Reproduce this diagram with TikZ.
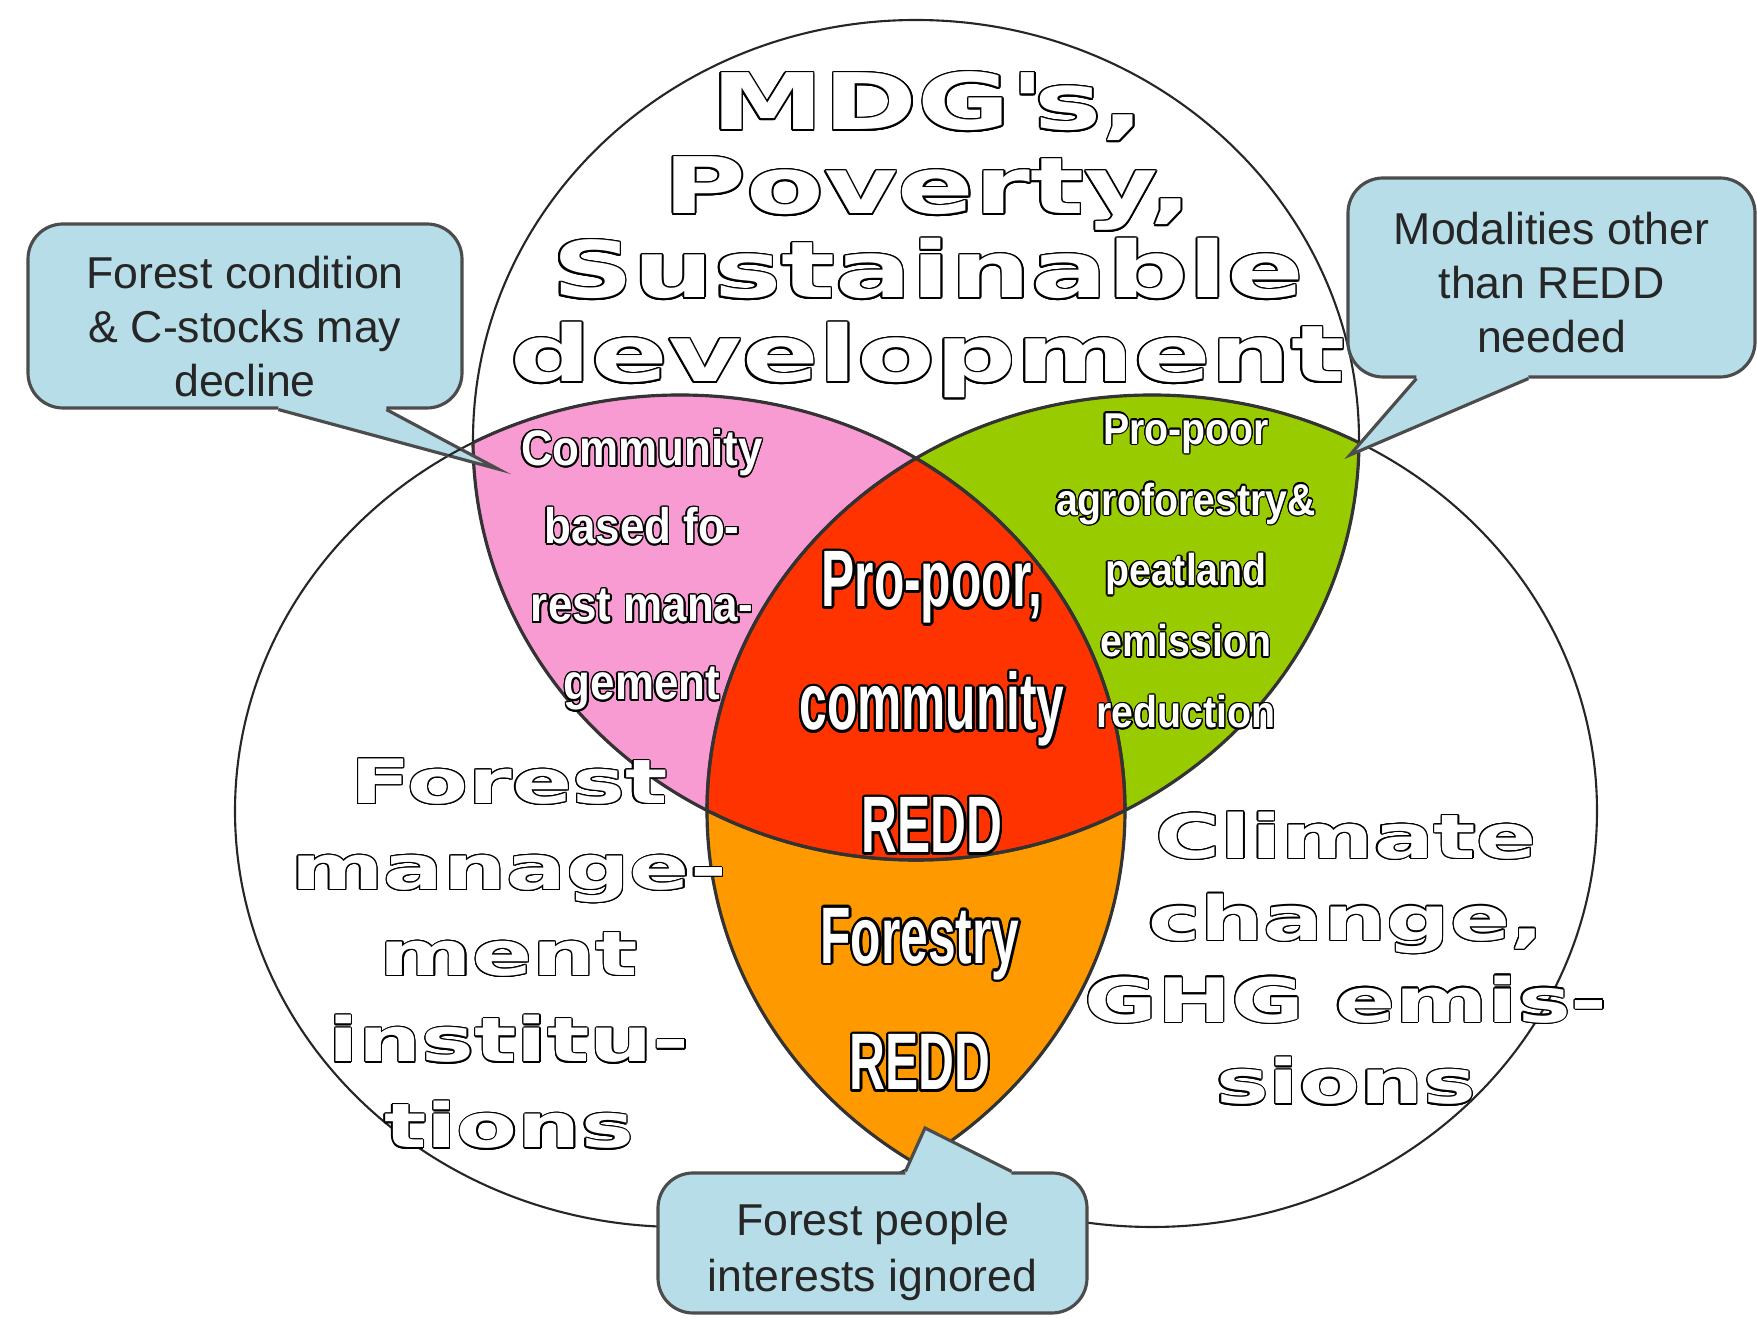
\documentclass[tikz,border=0pt]{standalone}
\usepackage{fontspec}
\usepackage{contour}
\setmainfont{Liberation Sans}
\newfontfamily\notefont{Liberation Sans}
\newfontfamily\widefont[FakeStretch=1.45]{DejaVu Sans}
\newfontfamily\narrowfont[FakeStretch=0.62]{Liberation Sans}
\newfontfamily\semifont[FakeStretch=0.88]{Liberation Sans}
\contourlength{0.03em}
\newcommand{\hollow}[1]{\contour{black}{#1}}
\newcommand{\thinhollow}[1]{{\contourlength{0.02em}\contour{black}{#1}}}

\definecolor{noteblue}{RGB}{183,222,232}
\definecolor{pinkzone}{RGB}{247,155,210}
\definecolor{greenzone}{RGB}{153,204,0}
\definecolor{redzone}{RGB}{255,51,0}
\definecolor{orangezone}{RGB}{255,153,0}

\begin{document}
\begin{tikzpicture}[
    orbtop/.style={x radius=4.43, y radius=4.20},
    orbside/.style={x radius=4.45, y radius=4.16},
    ring/.style={draw=black!85, line width=0.6pt},
    zoneedge/.style={draw=black!80, line width=0.9pt},
    note/.style={draw=black!70, fill=noteblue, rounded corners=0.35cm, line width=0.9pt,
        align=center, inner sep=0pt, text=black!85, text depth=0cm,
        font=\notefont\fontsize{12.7pt}{15.4pt}\selectfont},
    notetip/.style={draw=black!70, line width=0.9pt},
    wideword/.style={align=center, anchor=base, text=white, inner sep=0pt},
    narrowword/.style={align=center, anchor=base, text=white, inner sep=0pt},
]
    \useasboundingbox (0,0) rectangle (17.57,13.19);

    % centres of the three sets
    \coordinate (goal) at (9.16,8.79);
    \coordinate (forest) at (6.80,5.08);
    \coordinate (climate) at (11.52,5.08);

    % overlaps
    \begin{scope}
        \clip (goal) ellipse [orbtop];
        \fill[pinkzone] (forest) ellipse [orbside];
        \fill[greenzone] (climate) ellipse [orbside];
    \end{scope}
    \begin{scope}
        \clip (forest) ellipse [orbside];
        \fill[orangezone] (climate) ellipse [orbside];
        \clip (goal) ellipse [orbtop];
        \fill[redzone] (climate) ellipse [orbside];
    \end{scope}

    % outlines
    \draw[ring] (goal) ellipse [orbtop];
    \draw[ring] (forest) ellipse [orbside];
    \draw[ring] (climate) ellipse [orbside];
    \begin{scope}
        \clip (goal) ellipse [orbtop];
        \draw[zoneedge] (forest) ellipse [orbside];
        \draw[zoneedge] (climate) ellipse [orbside];
    \end{scope}
    \begin{scope}
        \clip (forest) ellipse [orbside];
        \draw[zoneedge] (goal) ellipse [orbtop];
        \draw[zoneedge] (climate) ellipse [orbside];
    \end{scope}
    \begin{scope}
        \clip (climate) ellipse [orbside];
        \draw[zoneedge] (goal) ellipse [orbtop];
        \draw[zoneedge] (forest) ellipse [orbside];
    \end{scope}

    % set titles (placed at the baseline of their last line)
    \node[wideword, font=\widefont\bfseries\fontsize{22.2pt}{23.9pt}\selectfont] (goals) at (9.28,9.37)
        {\thinhollow{MDG\textquotesingle s,}\\\thinhollow{Poverty,}\\\thinhollow{Sustainable}\\\thinhollow{development}};
    \node[wideword, font=\widefont\bfseries\fontsize{17.4pt}{24.5pt}\selectfont] (institutions) at (5.09,1.71)
        {\thinhollow{Forest}\\\thinhollow{manage-}\\\thinhollow{ment}\\\thinhollow{institu-}\\\thinhollow{tions}};
    \node[wideword, font=\widefont\bfseries\fontsize{17.4pt}{23.3pt}\selectfont] (emissions) at (13.46,2.15)
        {\thinhollow{Climate}\\\thinhollow{change,}\\\thinhollow{GHG emis-}\\\thinhollow{sions}};

    % overlap labels
    \node[narrowword, font=\semifont\bfseries\fontsize{14.2pt}{22.2pt}\selectfont] (cbfm) at (6.42,6.19)
        {\hollow{Community}\\\hollow{based fo-}\\\hollow{rest mana-}\\\hollow{gement}};
    \node[narrowword, font=\semifont\bfseries\fontsize{12.7pt}{20.2pt}\selectfont] (agro) at (11.86,5.91)
        {\hollow{Pro-poor}\\\hollow{agroforestry\&}\\\hollow{peatland}\\\hollow{emission}\\\hollow{reduction}};
    \node[narrowword, font=\narrowfont\bfseries\fontsize{22.8pt}{35pt}\selectfont] (propoor) at (9.32,4.66)
        {\hollow{Pro-poor,}\\\hollow{community}\\\hollow{REDD}};
    \node[narrowword, font=\narrowfont\bfseries\fontsize{22.8pt}{36.1pt}\selectfont] (forestry) at (9.20,2.29)
        {\hollow{Forestry}\\\hollow{REDD}};

    % callouts
    \node[note, minimum width=4.34cm, minimum height=1.84cm, text height=1.62cm] (decline) at (2.45,10.03)
        {Forest condition\\\& C-stocks may\\decline};
    \node[note, minimum width=4.07cm, minimum height=1.99cm, text height=1.51cm] (modalities) at (15.515,10.415)
        {Modalities other\\than REDD\\needed};
    \node[note, minimum width=4.29cm, minimum height=1.40cm, text height=0.98cm,
        font=\notefont\fontsize{12.7pt}{16.2pt}\selectfont] (ignored) at (8.725,0.76)
        {Forest people\\interests ignored};

    \coordinate (declinetip) at (4.98,8.50);
    \coordinate (modalitiestip) at (13.50,8.64);
    \coordinate (ignoredtip) at (9.25,1.91);

    \fill[noteblue] ([xshift=2.52cm,yshift=2pt]decline.south west) -- ([xshift=2.52cm]decline.south west)
        -- (declinetip) -- ([xshift=3.60cm]decline.south west) -- ([xshift=3.60cm,yshift=2pt]decline.south west) -- cycle;
    \draw[notetip] ([xshift=2.52cm]decline.south west) -- (declinetip) -- ([xshift=3.60cm]decline.south west);

    \fill[noteblue] ([xshift=0.70cm,yshift=2pt]modalities.south west) -- ([xshift=0.70cm]modalities.south west)
        -- (modalitiestip) -- ([xshift=1.82cm]modalities.south west) -- ([xshift=1.82cm,yshift=2pt]modalities.south west) -- cycle;
    \draw[notetip] ([xshift=0.70cm]modalities.south west) -- (modalitiestip) -- ([xshift=1.82cm]modalities.south west);

    \fill[noteblue] ([xshift=2.49cm,yshift=-2pt]ignored.north west) -- ([xshift=2.49cm]ignored.north west)
        -- (ignoredtip) -- ([xshift=3.55cm]ignored.north west) -- ([xshift=3.55cm,yshift=-2pt]ignored.north west) -- cycle;
    \draw[notetip] ([xshift=2.49cm]ignored.north west) -- (ignoredtip) -- ([xshift=3.55cm]ignored.north west);

    % the left set's rim runs over the first pointer
    \begin{scope}
        \clip ([xshift=2.52cm]decline.south west) -- (declinetip) -- ([xshift=3.60cm]decline.south west) -- cycle;
        \draw[ring] (forest) ellipse [orbside];
    \end{scope}
\end{tikzpicture}
\end{document}
